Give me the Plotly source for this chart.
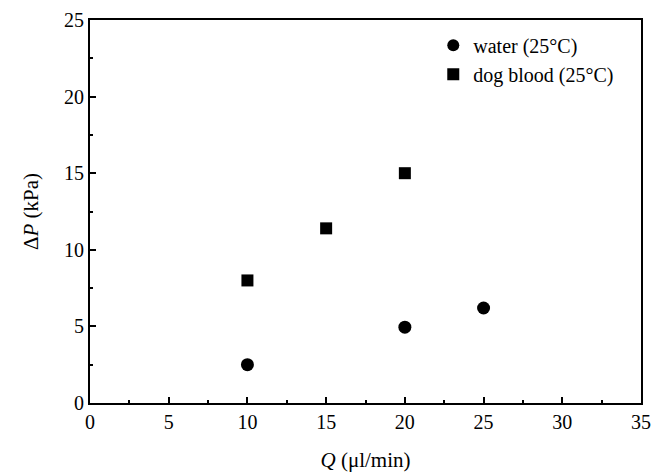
import plotly.graph_objects as go

water_q = [10, 20, 25]
water_dp = [2.5, 4.95, 6.2]
blood_q = [10, 15, 20]
blood_dp = [8.0, 11.4, 15.0]

font = "Times New Roman, Liberation Serif, serif"

fig = go.Figure()
fig.add_trace(go.Scatter(x=water_q, y=water_dp, mode="markers", name="water (25°C)",
                         marker=dict(symbol="circle", size=13, color="black")))
fig.add_trace(go.Scatter(x=blood_q, y=blood_dp, mode="markers", name="dog blood (25°C)",
                         marker=dict(symbol="square", size=12, color="black")))

axis_common = dict(showgrid=False, zeroline=False, showline=True, linecolor="black", linewidth=2,
                   mirror=True, ticks="inside", ticklen=6, tickwidth=1.5, tickcolor="black",
                   automargin=False,
                   tickfont=dict(family=font, size=20, color="black"),
                   minor=dict(ticks="inside", ticklen=3, tickwidth=1.5, tickcolor="black"))

fig.update_xaxes(range=[0, 35], dtick=5, minor_dtick=2.5,
                 title=dict(text="<i>Q</i> (μl/min)", font=dict(family=font, size=21, color="black"), standoff=20),
                 **axis_common)
fig.update_yaxes(range=[0, 25], dtick=5, minor_dtick=2.5,
                 title=dict(text="Δ<i>P</i> (kPa)", font=dict(family=font, size=21, color="black"), standoff=20),
                 **axis_common)

fig.update_layout(width=656, height=473, margin=dict(l=90, r=15, t=20, b=70),
                  font=dict(family=font, color="black"),
                  paper_bgcolor="white", plot_bgcolor="white",
                  legend=dict(x=0.623, y=0.985, xanchor="left", yanchor="top", bgcolor="rgba(0,0,0,0)",
                              font=dict(family=font, size=20, color="black"), itemsizing="constant",
                              tracegroupgap=0),
                  showlegend=True)

fig.write_html("out.html", config={"displayModeBar": False},
               post_script="document.body.style.margin='0';document.body.style.overflow='hidden';")
